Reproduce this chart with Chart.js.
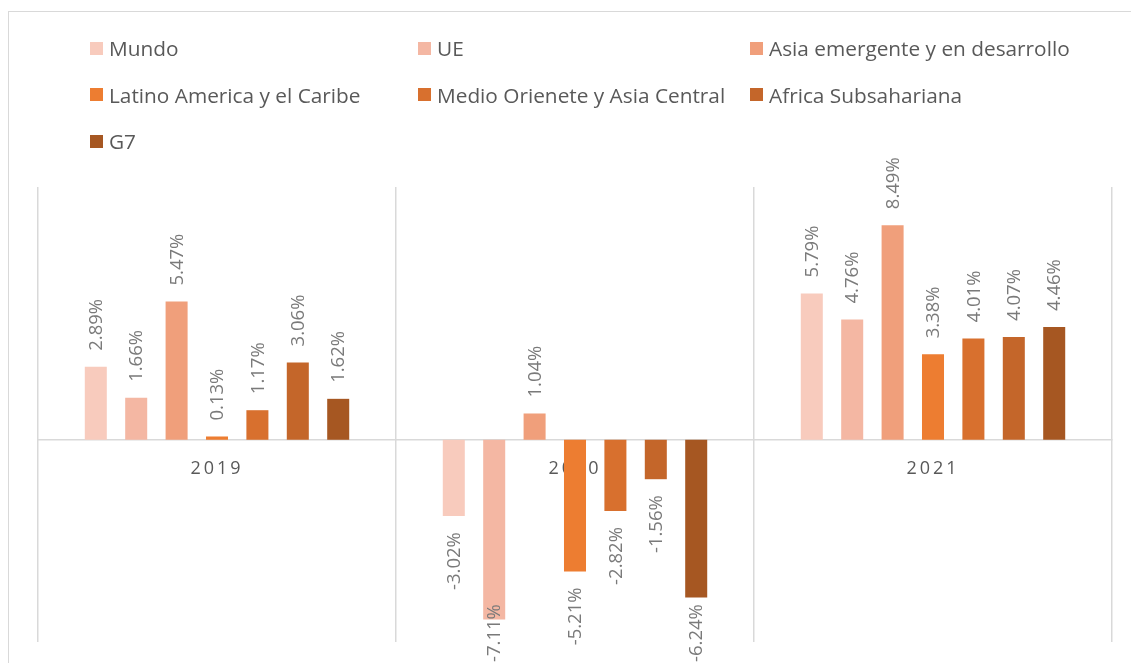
<!DOCTYPE html>
<html>
<head>
<meta charset="utf-8">
<script src="https://cdn.jsdelivr.net/npm/chart.js@4.4.1/dist/chart.umd.min.js"></script>
<style>
html,body{margin:0;padding:0;background:#fff;overflow:hidden;}
#wrap{position:relative;width:1131px;height:663px;overflow:hidden;}
#frame{position:absolute;left:8px;top:11px;width:1300px;height:800px;border:1.5px solid #d9d9d9;box-sizing:border-box;}
#c{position:absolute;left:0;top:0;}
#legend{position:absolute;left:90px;top:25px;display:grid;grid-template-columns:328px 332px 340px;font-family:"Open Sans", sans-serif;font-size:20.8px;color:#595959;}
.item{display:flex;align-items:center;height:46.5px;white-space:nowrap;}
.sw{width:13px;height:13px;margin-right:6px;flex:none;}
</style>
</head>
<body>
<div id="wrap">
  <div id="frame"></div>
  <canvas id="c" width="1131" height="663"></canvas>
  <div id="legend"></div>
</div>
<script>
const categories = ['2019', '2020', '2021'];
const seriesNames = ['Mundo', 'UE', 'Asia emergente y en desarrollo', 'Latino America y el Caribe', 'Medio Orienete y Asia Central', 'Africa Subsahariana', 'G7'];
const mundo  = [2.89, -3.02, 5.79];
const ue     = [1.66, -7.11, 4.76];
const asia   = [5.47, 1.04, 8.49];
const latam  = [0.13, -5.21, 3.38];
const medio  = [1.17, -2.82, 4.01];
const africa = [3.06, -1.56, 4.07];
const g7     = [1.62, -6.24, 4.46];
const seriesColors = ['#F8CBBD', '#F4B7A3', '#F09F7B', '#ED7D31', '#D8702E', '#C4662A', '#A65722'];

const seriesData = [mundo, ue, asia, latam, medio, africa, g7];

const datasets = seriesNames.map((name, i) => ({
  label: name,
  data: seriesData[i],
  backgroundColor: seriesColors[i],
  borderWidth: 0,
  categoryPercentage: 0.79,
  barPercentage: 0.545
}));

const letterSpacingPlugin = {
  id: 'spacing',
  beforeDraw(chart) { chart.ctx.letterSpacing = '3px'; },
  beforeDatasetsDraw(chart) { chart.ctx.letterSpacing = '0px'; }
};

const labelPlugin = {
  id: 'vlabels',
  afterDatasetsDraw(chart) {
    const ctx = chart.ctx;
    ctx.save();
    ctx.letterSpacing = '0px';
    ctx.font = '18.5px "Open Sans", sans-serif';
    ctx.fillStyle = '#7a7a7a';
    const limit = chart.height - 1;
    chart.data.datasets.forEach((ds, i) => {
      const meta = chart.getDatasetMeta(i);
      meta.data.forEach((bar, j) => {
        const v = ds.data[j];
        const txt = v.toFixed(2) + '%';
        const w = ctx.measureText(txt).width;
        ctx.save();
        ctx.translate(bar.x, bar.y);
        ctx.rotate(-Math.PI / 2);
        ctx.textBaseline = 'middle';
        if (v >= 0) {
          ctx.textAlign = 'left';
          ctx.fillText(txt, 16, 1);
        } else {
          let start = bar.y + 16;
          if (start + w > limit) start = limit - w;
          ctx.textAlign = 'right';
          ctx.fillText(txt, -(start - bar.y), 1);
        }
        ctx.restore();
      });
    });
    ctx.restore();
  }
};

const chart = new Chart(document.getElementById('c'), {
  type: 'bar',
  data: { labels: categories, datasets },
  plugins: [letterSpacingPlugin, labelPlugin],
  options: {
    responsive: false,
    animation: false,
    layout: { padding: { left: 38, right: 19, top: 187, bottom: 21 } },
    plugins: { legend: { display: false }, tooltip: { enabled: false } },
    scales: {
      x: {
        position: { y: 0 },
        afterFit(scale) { scale.height = 0; },
        grid: { offset: true, color: '#d9d9d9', lineWidth: 1.5, drawTicks: false },
        border: { display: true, color: '#d9d9d9', width: 1.5 },
        ticks: { font: { family: 'Open Sans', size: 18 }, color: '#595959', padding: 18 }
      },
      y: { display: false, min: -8, max: 10 }
    }
  }
});

// HTML legend built from chart datasets
const legendEl = document.getElementById('legend');
chart.data.datasets.forEach(ds => {
  const item = document.createElement('div');
  item.className = 'item';
  const sw = document.createElement('span');
  sw.className = 'sw';
  sw.style.background = ds.backgroundColor;
  const t = document.createElement('span');
  t.textContent = ds.label;
  item.appendChild(sw); item.appendChild(t);
  legendEl.appendChild(item);
});
</script>
</body>
</html>
